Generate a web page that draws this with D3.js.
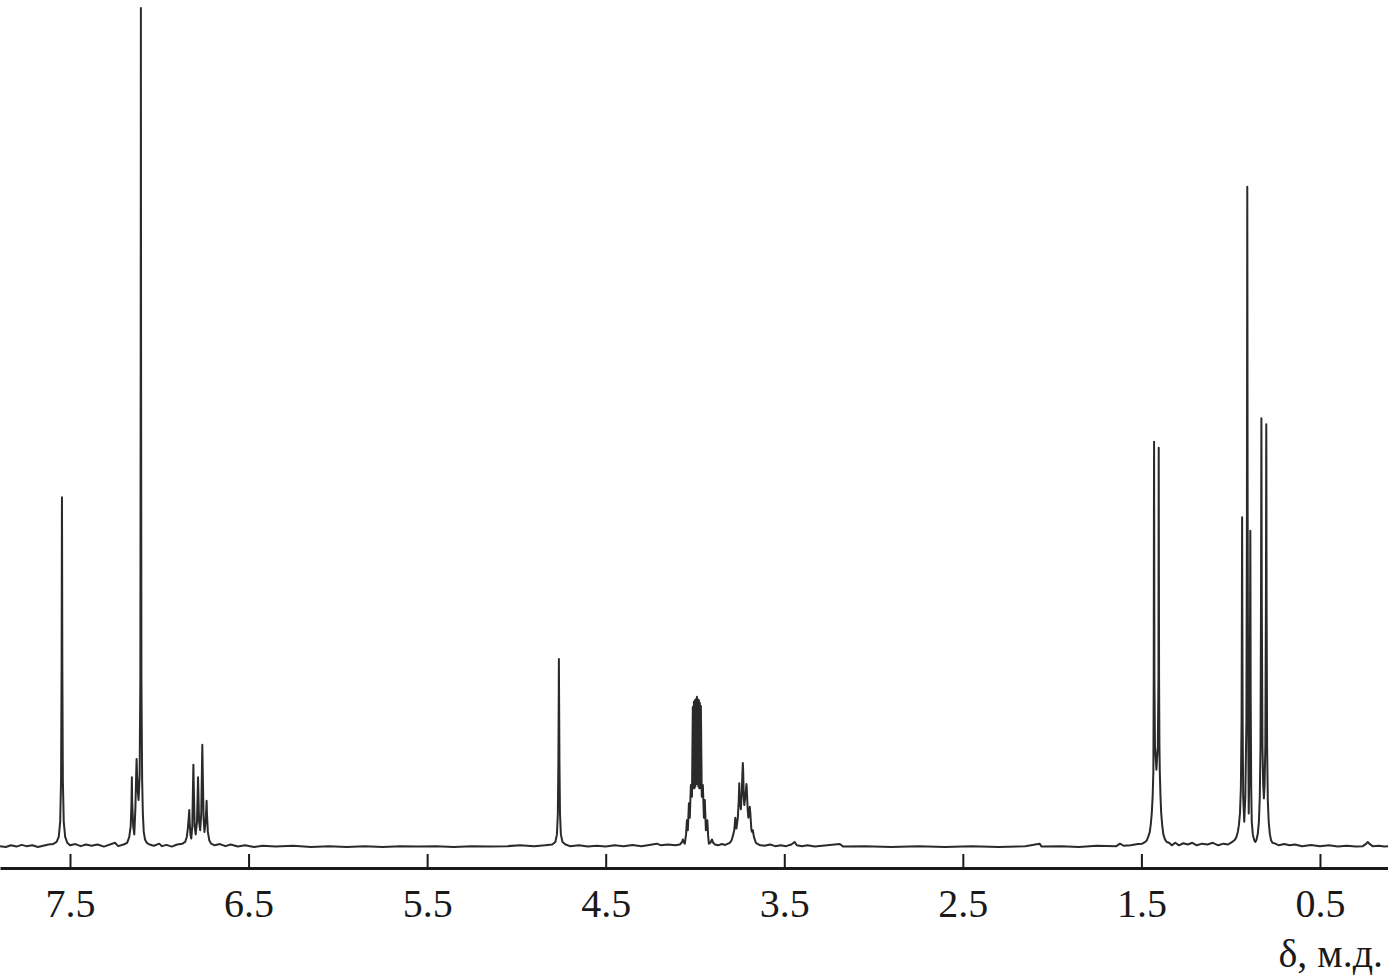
<!DOCTYPE html>
<html>
<head>
<meta charset="utf-8">
<script src="https://cdn.jsdelivr.net/npm/d3@7"></script>
<style>
  html, body { margin: 0; padding: 0; background: #ffffff; }
  svg { display: block; }
</style>
</head>
<body>
<svg id="chart" width="1388" height="977"></svg>
<script>
// ---- Data (chemical shift in ppm, relative intensity; tallest line = 100) ----
const shifts = [
  7.892,7.860,7.830,7.800,7.770,7.745,7.710,7.680,7.650,7.620,7.595,
  7.575,7.563,7.555,7.550,7.547,7.5455,7.545,7.5445,7.543,7.540,7.535,7.527,7.515,7.500,
  7.470,7.440,7.410,7.380,7.345,7.310,7.248,7.230,7.200,
  7.180,7.168,7.160,7.156,7.1535,7.152,7.146,7.140,7.134,7.129,7.127,7.125,7.120,7.116,
  7.110,7.106,7.104,7.1032,7.103,7.1028,7.102,7.100,7.096,7.092,7.087,7.080,7.070,7.055,
  7.030,7.000,6.985,6.960,6.930,6.900,6.870,
  6.855,6.846,6.840,6.835,6.832,6.830,6.825,6.821,6.815,6.811,6.809,6.807,6.802,6.796,
  6.789,6.785,6.783,6.781,6.777,6.771,6.765,6.761,6.759,6.757,6.752,6.747,6.741,6.737,
  6.735,6.733,6.728,6.720,6.710,6.690,6.660,6.630,6.600,6.560,6.520,6.470,6.420,
  6.350,6.250,6.150,6.050,5.950,5.850,5.750,5.650,5.550,5.450,5.350,5.250,5.150,5.050,
  4.980,4.900,4.840,
  4.800,4.782,4.773,4.768,4.765,4.763,4.7622,4.761,4.759,4.756,4.751,4.742,4.725,4.700,
  4.650,4.600,4.550,4.500,4.450,4.400,4.350,4.300,4.213,4.190,4.150,4.110,
  4.085,4.072,4.068,4.063,4.057,4.050,4.045,4.040,4.034,4.029,4.023,4.017,4.012,4.009,
  4.006,4.003,4.001,3.998,3.995,3.992,3.989,3.987,3.984,3.981,3.978,3.976,3.973,3.970,
  3.967,3.962,3.956,3.950,3.945,3.939,3.931,3.926,3.922,3.914,3.905,3.898,3.888,
  3.870,3.850,3.830,3.815,
  3.805,3.795,3.788,3.780,3.776,3.774,3.772,3.768,3.760,3.755,3.752,3.749,3.743,3.738,
  3.734,3.732,3.730,3.727,3.724,3.718,3.714,3.712,3.710,3.705,3.701,3.696,3.693,3.690,
  3.684,3.680,3.676,3.670,3.659,3.640,3.610,3.580,3.550,3.520,3.490,3.460,3.442,3.430,
  3.400,3.370,3.330,3.189,3.170,3.050,2.900,2.750,2.600,2.450,2.300,2.150,2.070,2.060,
  1.950,1.850,1.750,1.640,1.620,1.600,1.560,1.520,
  1.495,1.478,1.470,1.462,1.453,1.447,1.442,1.437,1.433,1.431,1.4298,1.429,1.4284,1.427,
  1.424,1.416,1.408,1.4045,1.4035,1.403,1.4025,1.401,1.399,1.397,1.393,1.389,1.383,1.377,
  1.368,1.358,1.345,
  1.330,1.310,1.290,1.265,1.240,1.215,1.190,1.160,1.130,1.100,1.070,1.040,1.015,1.000,
  0.985,0.975,
  0.968,0.960,0.954,0.948,0.943,0.939,0.937,0.936,0.935,0.933,0.930,0.924,0.918,0.912,
  0.909,0.9075,0.907,0.9065,0.905,0.902,0.899,0.896,0.893,0.8905,0.890,0.8895,0.888,0.885,
  0.882,0.876,0.868,0.862,0.855,0.848,0.842,0.837,0.833,0.830,0.8285,0.828,0.8275,0.826,
  0.822,0.818,0.814,0.810,0.806,0.8025,0.8012,0.8007,0.8002,0.799,0.796,0.792,0.787,0.781,
  0.774,0.766,0.750,0.730,0.700,0.670,0.640,0.600,0.550,0.500,0.450,0.400,0.350,0.300,
  0.260,0.240,0.232,0.224,0.205,0.170,0.140,0.119
];
const intensities = [
  0.1,0.0,0.2,0.05,0.25,0.1,0.2,0.0,0.15,0.3,0.35,
  0.6,1.2,3.0,8.0,22,38,41.7,38,22,8.0,3.0,1.2,0.5,0.2,
  0.35,0.1,0.3,0.15,0.3,0.05,0.5,0.1,0.3,
  0.5,1.2,2.5,5.0,8.3,5.5,2.5,1.5,4.5,9.0,10.5,9.0,6.5,5.6,
  8.5,20,60,90,100,90,60,20,8,4,1.8,0.9,0.5,0.3,
  0.15,0.4,0.1,0.25,0.05,0.3,0.4,
  0.6,1.2,2.2,3.5,4.4,3.0,1.4,1.0,2.5,7.5,9.8,7.5,2.5,1.5,
  3.0,6.5,8.3,6.5,3.0,2.0,4.0,9.5,12.2,9.5,3.5,1.8,3.0,4.5,
  5.5,4.0,1.8,0.8,0.4,0.2,0.35,0.1,0.3,0.05,0.2,0.0,0.15,
  0.05,0.15,0.0,0.1,0.0,0.1,0.0,0.1,0.05,0.1,0.0,0.1,0.05,0.1,
  0.2,0.1,0.2,
  0.3,0.6,1.5,4.0,10,18,22.4,18,10,4.0,1.5,0.6,0.3,0.1,
  0.2,0.05,0.15,0.05,0.2,0.1,0.25,0.1,0.4,0.2,0.3,0.2,
  0.3,0.6,0.9,0.6,0.4,1.5,3.2,2.0,5.2,3.5,7.4,6.0,16.7,7.0,
  17.3,7.0,17.5,7.2,17.6,7.5,17.9,7.5,17.6,7.2,17.5,7.0,17.2,7.0,
  16.8,6.0,7.4,3.5,5.6,2.0,3.2,1.2,0.4,0.5,0.9,0.5,0.3,
  0.2,0.35,0.25,0.4,
  0.5,0.8,1.3,2.0,3.0,3.5,3.0,2.2,3.5,5.5,7.6,5.5,4.5,6.5,
  9.0,10.0,9.0,6.0,5.0,6.0,7.0,7.5,7.0,4.5,3.5,4.2,4.8,4.0,
  2.0,1.8,2.0,1.2,0.5,0.25,0.15,0.3,0.1,0.2,0.1,0.3,0.6,0.2,
  0.1,0.2,0.05,0.35,0.05,0.1,0.0,0.1,0.0,0.1,0.0,0.1,0.4,0.05,
  0.1,0.0,0.15,0.1,0.4,0.15,0.2,0.35,
  0.4,0.6,0.8,1.2,1.8,2.8,4.0,6.0,9.0,20,40,48.3,40,20,
  12,9.2,12,20,40,47.6,40,20,12,9.0,6.0,4.0,2.5,1.5,
  0.9,0.6,0.5,
  0.2,0.5,0.2,0.45,0.3,0.5,0.2,0.4,0.3,0.5,0.2,0.4,0.3,0.5,
  0.7,0.9,
  1.2,1.8,2.6,4.0,7,15,30,39.3,30,15,6,3.0,6,15,
  40,70,78.7,70,40,15,4.0,8,18,34,37.7,34,18,7,
  3.0,1.5,0.8,0.6,0.9,1.6,3.0,6.0,12,30,47,51.1,47,30,
  12,7.5,5.8,7.5,12,30,47,50.4,47,30,12,5.5,3.0,1.6,
  0.8,0.5,0.4,0.2,0.35,0.2,0.3,0.1,0.25,0.1,0.2,0.05,0.15,0.05,
  0.1,0.4,0.6,0.4,0.1,0.15,0.05,0.1
];
const tickValues = [7.5, 6.5, 5.5, 4.5, 3.5, 2.5, 1.5, 0.5];
const xDomain = [7.892, 0.119];
const axisTitle = "δ, м.д.";

// ---- Layout ----
const W = 1388, H = 977;
const axisY = 868;
const svg = d3.select("#chart");

const x = d3.scaleLinear().domain(xDomain).range([0, W]);
const y = d3.scaleLinear().domain([0, 100]).range([847, 8]);

const data = shifts.map((s, i) => ({ s, v: intensities[i] }));

const line = d3.line()
  .x(d => x(d.s))
  .y(d => y(d.v));

svg.append("path")
  .datum(data)
  .attr("d", line)
  .attr("fill", "none")
  .attr("stroke", "#2a2a2a")
  .attr("stroke-width", 2)
  .attr("stroke-linejoin", "round");

// ---- Axis ----
const axis = d3.axisBottom(x)
  .tickValues(tickValues)
  .tickFormat(d3.format(".1f"))
  .tickSizeInner(-14)
  .tickSizeOuter(0)
  .tickPadding(21);

const gAxis = svg.append("g")
  .attr("transform", `translate(0,${axisY})`)
  .call(axis);

gAxis.select(".domain")
  .attr("stroke", "#1a1a1a")
  .attr("stroke-width", 2.8);
gAxis.selectAll(".tick line")
  .attr("stroke", "#1a1a1a")
  .attr("stroke-width", 2);
gAxis.selectAll(".tick text")
  .attr("fill", "#1a1a1a")
  .style("font-family", "'Liberation Serif', 'Times New Roman', serif")
  .style("font-size", "40px");

svg.append("text")
  .attr("x", 1383)
  .attr("y", 967)
  .attr("text-anchor", "end")
  .attr("fill", "#1a1a1a")
  .style("font-family", "'Liberation Serif', 'Times New Roman', serif")
  .style("font-size", "40px")
  .text(axisTitle);
</script>
</body>
</html>
